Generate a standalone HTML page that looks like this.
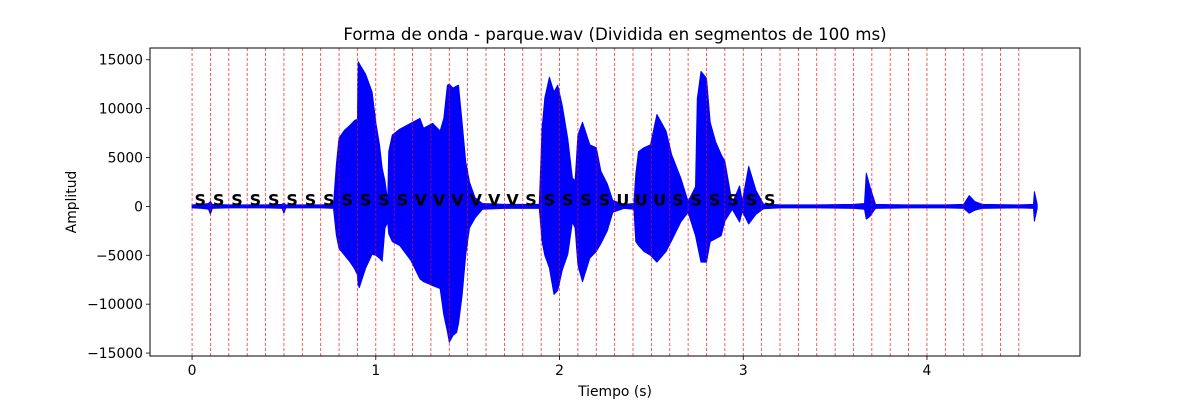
<!DOCTYPE html>
<html><head><meta charset="utf-8"><style>
html,body{margin:0;padding:0;background:#fff;}
svg{display:block;font-family:"DejaVu Sans","Liberation Sans",sans-serif;}
</style></head><body>
<svg id="chart" width="1200" height="400" viewBox="0 0 1200 400" xmlns="http://www.w3.org/2000/svg">
<rect x="0" y="0" width="1200" height="400" fill="#fff"/>
<text x="615" y="40" font-size="16.7" text-anchor="middle">Forma de onda - parque.wav (Dividida en segmentos de 100 ms)</text>
<text x="615" y="396" font-size="13.9" text-anchor="middle">Tiempo (s)</text>
<text x="0" y="0" font-size="13.9" text-anchor="middle" transform="translate(76,202) rotate(-90)">Amplitud</text>
<g id="plot"></g>
</svg>
<script>
const times  = [0,0.05,0.09,0.1,0.11,0.2,0.3,0.4,0.49,0.5,0.51,0.6,0.7,0.77,0.785,0.80,0.83,0.86,0.885,0.90,0.905,0.91,0.945,0.98,1.0,1.02,1.035,1.05,1.065,1.07,1.09,1.13,1.19,1.24,1.26,1.31,1.35,1.37,1.39,1.40,1.42,1.44,1.45,1.47,1.49,1.51,1.54,1.58,1.7,1.8,1.89,1.905,1.92,1.945,1.97,1.99,2.015,2.045,2.07,2.085,2.1,2.125,2.165,2.2,2.225,2.26,2.29,2.35,2.405,2.415,2.43,2.46,2.495,2.53,2.58,2.61,2.66,2.70,2.74,2.75,2.77,2.80,2.82,2.85,2.88,2.90,2.94,2.98,2.995,3.03,3.07,3.11,3.2,3.4,3.6,3.66,3.67,3.69,3.72,3.9,4.1,4.2,4.23,4.26,4.3,4.5,4.58,4.585,4.6];
const maxAmp = [150,200,300,500,200,150,150,150,200,350,150,150,150,200,4200,7000,7800,8300,8800,8900,14800,14600,13500,11700,8600,6300,3900,2600,500,5600,7300,7900,8500,9000,8000,8500,7700,9000,12400,12500,12100,12300,12400,8600,4500,2500,900,300,200,200,200,8000,11100,13200,11700,12400,10300,6900,2900,2600,7300,8600,6300,6000,3600,2300,600,200,300,3300,5600,6000,6300,9400,7700,5300,2900,500,2000,11000,13800,13100,8600,6600,5300,4600,300,2100,500,4100,1600,250,150,150,200,300,3400,2000,200,150,150,200,1100,500,200,150,200,1500,200];
const minAmp = [-150,-200,-300,-800,-200,-150,-150,-150,-200,-700,-150,-150,-150,-200,-2900,-4300,-5000,-5700,-6400,-7000,-8000,-8300,-6300,-4900,-5000,-5300,-5600,-2200,-1600,-2800,-3600,-4000,-5500,-7400,-7700,-8100,-8400,-11100,-12800,-13900,-13200,-12900,-12000,-9100,-4900,-2200,-1200,-300,-200,-200,-200,-3600,-5000,-6300,-9000,-8600,-6500,-4900,-1600,-2200,-6000,-7700,-5300,-4600,-3800,-2500,-600,-200,-300,-3600,-4000,-4600,-5000,-5700,-4600,-3500,-1600,-600,-3000,-3900,-5700,-5700,-3600,-3300,-3000,-1500,-300,-1600,-500,-1800,-800,-250,-150,-150,-200,-300,-1300,-1000,-200,-150,-150,-200,-700,-400,-200,-150,-200,-1500,-200];
const segLabels = ["S","S","S","S","S","S","S","S","S","S","S","S","V","V","V","V","V","V","S","S","S","S","S","U","U","U","S","S","S","S","S","S"];
const segStep = 0.1;
const segCount = 46;
const xTicks = [0,1,2,3,4];
const yTicks = [-15000,-10000,-5000,0,5000,10000,15000];

const L=150,R=1080,T=48,B=356;
const xMin=-0.229,xMax=4.833,yMin=-15300,yMax=16200;
function X(t){return L+(t-xMin)/(xMax-xMin)*(R-L);}
function Y(v){return B-(v-yMin)/(yMax-yMin)*(B-T);}
const NS="http://www.w3.org/2000/svg";
const g=document.getElementById('plot');
function mk(tag,attrs){const e=document.createElementNS(NS,tag);for(const k in attrs)e.setAttribute(k,attrs[k]);g.appendChild(e);return e;}

const n=Math.min(times.length,maxAmp.length,minAmp.length);
let d="M"+X(times[0])+","+Y(maxAmp[0]);
for(let i=1;i<n;i++) d+=" L"+X(times[i]).toFixed(1)+","+Y(maxAmp[i]).toFixed(1);
for(let i=n-1;i>=0;i--) d+=" L"+X(times[i]).toFixed(1)+","+Y(minAmp[i]).toFixed(1);
d+="Z";
const wave=mk('path',{d:d,fill:'#0000ff',stroke:'#0000ff','stroke-width':1,'stroke-linejoin':'round'});



for(let i=0;i<segCount;i++){
  const x=X(i*segStep);
  const ln=mk('line',{x1:x,x2:x,y1:T,y2:B,stroke:'#ff0000','stroke-width':0.8,'stroke-dasharray':'3,2',opacity:0.8});
  
  
}
segLabels.forEach((s,i)=>{
  const t=mk('text',{x:X(i*segStep+segStep/2)-1,y:Y(0)-1,'font-size':16,'font-weight':'bold','text-anchor':'middle',fill:'#000'});
  t.textContent=s;
  
  
});

const fr=mk('rect',{x:L,y:T,width:R-L,height:B-T,fill:'none',stroke:'#000','stroke-width':1});



xTicks.forEach(v=>{
  const x=X(v);
  const tk=mk('line',{x1:x,x2:x,y1:B,y2:B+4,stroke:'#000','stroke-width':0.8});
  
  
  const tx=mk('text',{x:x,y:B+19,'font-size':13.9,'text-anchor':'middle'});
  tx.textContent=v;
  
  
});
yTicks.forEach(v=>{
  const y=Y(v);
  const tk=mk('line',{x1:L-4,x2:L,y1:y,y2:y,stroke:'#000','stroke-width':0.8});
  
  
  const tx=mk('text',{x:L-7,y:y+5,'font-size':13.9,'text-anchor':'end'});
  tx.textContent=v<0?"\u2212"+Math.abs(v):String(v);
  
  
});
</script>
</body></html>
